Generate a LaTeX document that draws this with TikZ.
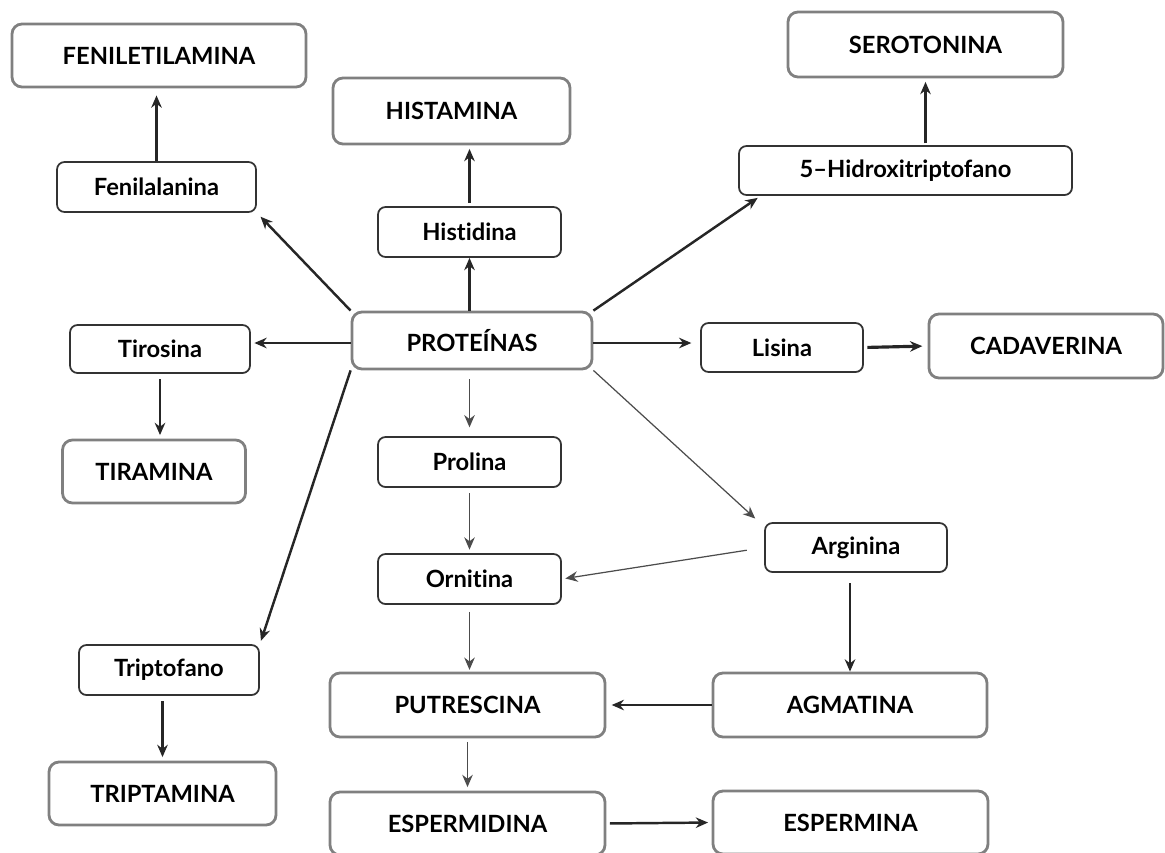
\documentclass[tikz,border=0pt]{standalone}
\usepackage{fontspec}
\setmainfont{Lato}[Ligatures={TeX,NoCommon}]
\usetikzlibrary{arrows.meta}

\tikzset{
  boxsize/.style 2 args={minimum width=#1*0.02cm, minimum height=#2*0.02cm},
  bigbox/.style={draw=black!50, line width=1.6pt, rounded corners=0.2cm, inner sep=0pt},
  smallbox/.style={draw=black!80, line width=1pt, rounded corners=0.15cm, inner sep=0pt},
  arr/.style={-{Stealth[length=7pt,width=6pt]}, line width=1.4pt, black!85},
  thinarr/.style={-{Stealth[length=7pt,width=6pt]}, line width=0.7pt, black!70}
}

\begin{document}
\begin{tikzpicture}[x=0.02cm,y=-0.02cm,font=\fontsize{13.5}{15}\selectfont\bfseries]
\useasboundingbox (0,0) rectangle (1165,852);

% products
\node[bigbox,boxsize={294}{63}] (fenilet) at (159,55.5) {FENILETILAMINA};
\node[bigbox,boxsize={237}{66}] (histam) at (451.5,111) {HISTAMINA};
\node[bigbox,boxsize={275}{65}] (sero) at (925.5,44.5) {SEROTONINA};
\node[bigbox,boxsize={240}{57}] (prot) at (472,340.5) {PROTEÍNAS};
\node[bigbox,boxsize={234}{64}] (cadav) at (1046,346) {CADAVERINA};
\node[bigbox,boxsize={183}{63}] (tiram) at (154,471.5) {TIRAMINA};
\node[bigbox,boxsize={275}{64}] (putr) at (467.5,705) {PUTRESCINA};
\node[bigbox,boxsize={274}{64}] (agmat) at (850,705) {AGMATINA};
\node[bigbox,boxsize={227}{63}] (triptam) at (162.5,793.5) {TRIPTAMINA};
\node[bigbox,boxsize={275}{63}] (espdin) at (467.5,823.5) {ESPERMIDINA};
\node[bigbox,boxsize={275}{63}] (espmin) at (850.5,822.5) {ESPERMINA};

% amino acids
\node[smallbox,boxsize={199}{50}] (fenil) at (156.5,187) {Fenilalanina};
\node[smallbox,boxsize={183}{50}] (histid) at (469.5,232) {Histidina};
\node[smallbox,boxsize={333}{49}] (hidroxi) at (905.5,170.5) {5--Hidroxitriptofano};
\node[smallbox,boxsize={180}{48}] (tiros) at (160,349) {Tirosina};
\node[smallbox,boxsize={162}{49}] (lisina) at (782,347.5) {Lisina};
\node[smallbox,boxsize={183}{50}] (prolina) at (469.5,462) {Prolina};
\node[smallbox,boxsize={183}{50}] (ornit) at (469.5,579) {Ornitina};
\node[smallbox,boxsize={182}{49}] (argin) at (856,547.5) {Arginina};
\node[smallbox,boxsize={180}{50}] (tripto) at (169,670) {Triptofano};

% from the proteins
\draw[arr,shorten >=3pt] (prot.north west) -- (fenil.south east);
\draw[arr] (prot.north -| histid) -- (histid.south);
\draw[arr,shorten >=2pt] (prot.north east) -- ([xshift=0.45cm]hidroxi.south west);
\draw[arr,shorten >=2pt] (prot.west |- 0,343) -- (tiros.east |- 0,343);
\draw[arr,shorten >=5pt] (prot.east |- 0,343) -- (lisina.west |- 0,343);
\draw[arr,shorten >=2pt] (prot.south west) -- (tripto.north east);
\draw[thinarr,shorten <=5pt,shorten >=5pt] (prolina |- prot.south) -- (prolina.north);
\draw[thinarr,shorten >=3pt] (prot.south east) -- ([xshift=-0.1cm]argin.north west);

% further steps
\draw[arr,shorten >=4pt] (fenil.north) -- (fenil |- fenilet.south);
\draw[arr,shorten <=2pt,shorten >=2pt] (histid.north) -- (histid |- histam.south);
\draw[arr,shorten <=1pt,shorten >=2pt] (sero |- hidroxi.north) -- (sero.south);
\draw[arr,shorten <=3pt,shorten >=2pt] (tiros.south) -- (tiros |- tiram.north);
\draw[arr,line width=1.8pt,shorten <=2pt,shorten >=3pt] (lisina.east) -- (cadav.west);
\draw[arr,shorten <=3pt,shorten >=2pt] (triptam |- tripto.south) -- (triptam.north);
\draw[thinarr,shorten <=3pt,shorten >=2pt] (prolina.south) -- (ornit.north);
\draw[thinarr,shorten <=10pt,shorten >=2pt] (argin.west) -- (ornit.east);
\draw[thinarr,shorten <=4pt,shorten >=1pt] (ornit.south) -- (ornit |- putr.north);
\draw[arr,shorten <=6pt,shorten >=0pt] (agmat |- argin.south) -- (agmat.north);
\draw[arr,shorten >=3pt] (agmat.west) -- (putr.east);
\draw[thinarr,shorten <=2pt,shorten >=2pt] (putr.south) -- (espdin.north);
\draw[arr,shorten <=2pt,shorten >=2pt] (espdin.east) -- (espmin.west);
\end{tikzpicture}
\end{document}
